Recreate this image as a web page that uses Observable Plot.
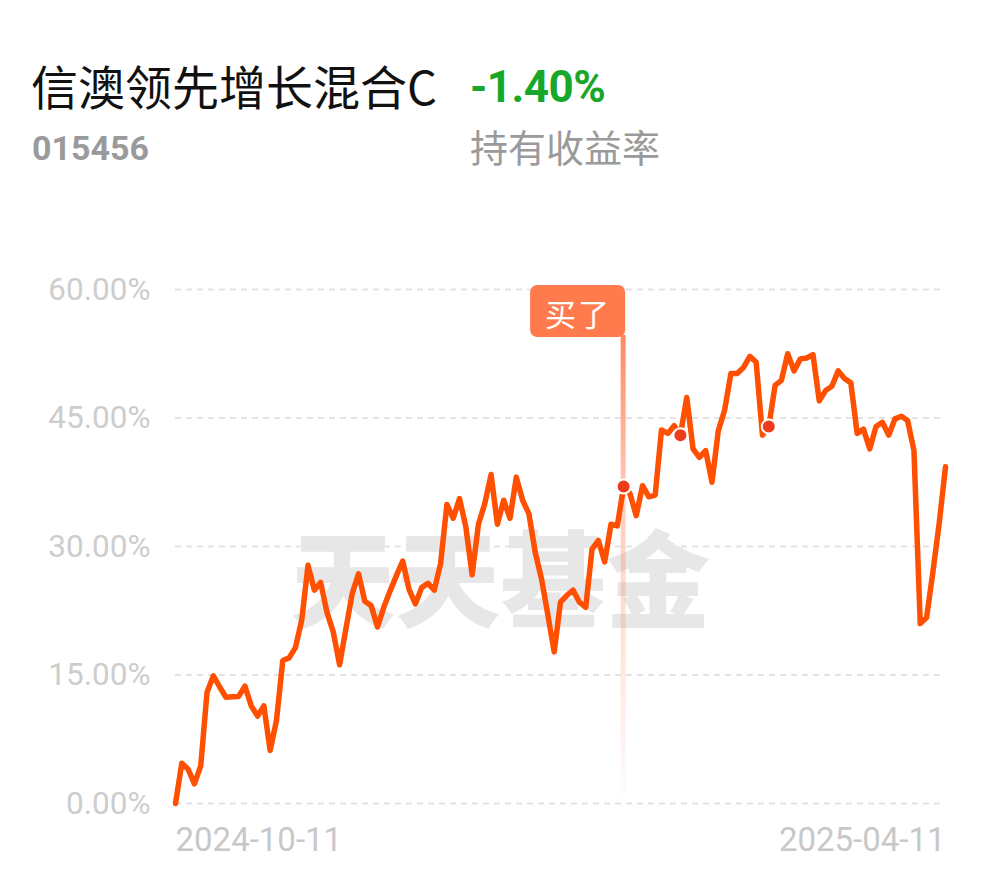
<!DOCTYPE html>
<html><head><meta charset="utf-8">
<script src="https://cdn.jsdelivr.net/npm/d3@7"></script>
<script src="https://cdn.jsdelivr.net/npm/@observablehq/plot@0.6"></script>
<style>
body{margin:0;background:#fff;}
#wrap{position:relative;width:990px;height:878px;overflow:hidden;background:#fff;}
.t{position:absolute;white-space:nowrap;line-height:1;}
#name{left:31px;top:50px;font:400 47px "Noto Sans CJK SC",sans-serif;color:#111;}
#ret{left:470px;top:61px;font:700 44px Roboto,sans-serif;color:#17a82a;letter-spacing:-0.5px;}
#code{left:32px;top:128px;font:700 34px Roboto,sans-serif;color:#9a9a9a;}
#retlab{left:470px;top:118px;font:400 38px "Noto Sans CJK SC",sans-serif;color:#9a9a9a;}
#chart{position:absolute;left:0;top:200px;}
</style></head><body>
<div id="wrap">
  <div class="t" id="name"></div>
  <div class="t" id="ret"></div>
  <div class="t" id="code"></div>
  <div class="t" id="retlab"></div>
  <div id="chart"></div>
</div>
<script>
const fundName = "信澳领先增长混合C";
const fundCode = "015456";
const holdReturn = "-1.40%";
const holdLabel = "持有收益率";
const yTicks = [0, 15, 30, 45, 60];
const xLabels = ["2024-10-11", "2025-04-11"];
const buyText = "买了";
const watermark = "天天基金";
// holding return (%) per trading day
const returns = [
  0.0, 4.7, 4.0, 2.3, 4.4, 13.0, 14.9, 13.6, 12.4, 12.45,
  12.5, 13.7, 11.4, 10.2, 11.4, 6.2, 9.7, 16.7, 17.0, 18.2,
  21.4, 27.8, 24.9, 25.8, 22.3, 20.0, 16.2, 20.4, 24.5, 26.8,
  23.6, 23.1, 20.6, 22.9, 24.8, 26.6, 28.3, 25.0, 23.3, 25.2,
  25.7, 24.9, 28.0, 34.9, 33.3, 35.6, 32.3, 26.7, 32.6, 35.0,
  38.4, 32.6, 35.4, 33.3, 38.1, 35.4, 33.8, 29.3, 26.2, 22.0,
  17.7, 23.5, 24.3, 24.9, 23.5, 22.9, 29.7, 30.7, 28.2, 32.6,
  32.4, 37.0, 36.2, 33.6, 37.1, 35.8, 36.0, 43.6, 43.2, 44.1,
  43.0, 47.4, 41.4, 40.4, 41.2, 37.5, 43.5, 45.9, 50.2, 50.2,
  50.9, 52.2, 51.5, 43.0, 44.0, 48.8, 49.4, 52.5, 50.5, 51.9,
  52.0, 52.4, 47.0, 48.2, 48.7, 50.5, 49.6, 49.1, 43.2, 43.7,
  41.4, 44.0, 44.5, 43.0, 44.9, 45.2, 44.7, 41.2, 21.0, 21.7,
  27.0, 32.7, 39.3
];
const markerDays = [71, 80, 94];
const buyDay = 71;

document.getElementById("name").textContent = fundName;
document.getElementById("ret").textContent = holdReturn;
document.getElementById("code").textContent = fundCode;
document.getElementById("retlab").textContent = holdLabel;

const series = returns.map((v, i) => ({day: i, value: v}));
const lastDay = returns.length - 1;

const plot = Plot.plot({
  width: 990, height: 678,
  marginTop: 89, marginBottom: 75, marginLeft: 175, marginRight: 45,
  style: {background: "transparent", fontFamily: "Roboto, sans-serif"},
  x: {domain: [0, lastDay], axis: null},
  y: {domain: [0, 60]},
  marks: [
    Plot.ruleY(yTicks, {stroke: "#e3e3e3", strokeWidth: 2, strokeDasharray: "6,5"}),
    Plot.axisY({ticks: yTicks, tickSize: 0, tickPadding: 25, fontSize: 31.5, color: "#cdcdcd",
      tickFormat: d => d.toFixed(2) + "%", label: null}),
    Plot.text([watermark], {frameAnchor: "middle", dx: -60, dy: 39, fontSize: 105, fontWeight: 900,
      fill: "#e7e7e7", fontFamily: "Noto Sans CJK SC"}),
    (index, scales) => {
      const px = scales.x(buyDay), top = scales.y(60), bot = scales.y(0);
      const g = d3.create("svg:g");
      const grad = g.append("defs").append("linearGradient")
        .attr("id", "buyGrad").attr("x1", 0).attr("y1", 0).attr("x2", 0).attr("y2", 1);
      grad.append("stop").attr("offset", 0).attr("stop-color", "#ff7b4d").attr("stop-opacity", 0.9);
      grad.append("stop").attr("offset", 0.35).attr("stop-color", "#ff7b4d").attr("stop-opacity", 0.38);
      grad.append("stop").attr("offset", 1).attr("stop-color", "#ff7b4d").attr("stop-opacity", 0.03);
      g.append("rect").attr("x", px - 2.5).attr("width", 5)
        .attr("y", top + 46).attr("height", bot - 8 - (top + 46)).attr("fill", "url(#buyGrad)");
      return g.node();
    },
    Plot.line(series, {x: "day", y: "value", stroke: "#ff4f00", strokeWidth: 5.5}),
    Plot.dot(markerDays, {x: d => d, y: d => returns[d], r: 7, fill: "#ee3b1c", stroke: "#fff", strokeWidth: 2}),
    (index, scales) => {
      const px = scales.x(buyDay), top = scales.y(60);
      const g = d3.create("svg:g");
      g.append("rect").attr("x", px - 93).attr("width", 95).attr("y", top - 4).attr("height", 52)
        .attr("rx", 7).attr("fill", "#ff7b4d");
      g.append("text").attr("x", px - 45).attr("y", top + 23).attr("text-anchor", "middle")
        .attr("dominant-baseline", "central").attr("fill", "#fff").attr("letter-spacing", 2)
        .attr("font-family", "Noto Sans CJK SC").attr("font-size", 31).text(buyText);
      return g.node();
    },
    Plot.text([xLabels[0]], {x: () => 0, y: () => 0, dy: 37, textAnchor: "start", fontSize: 33, fill: "#c8c8c8"}),
    Plot.text([xLabels[1]], {x: () => lastDay, y: () => 0, dy: 37, textAnchor: "end", fontSize: 33, fill: "#c8c8c8"})
  ]
});
document.getElementById("chart").appendChild(plot);
</script>
</body></html>
